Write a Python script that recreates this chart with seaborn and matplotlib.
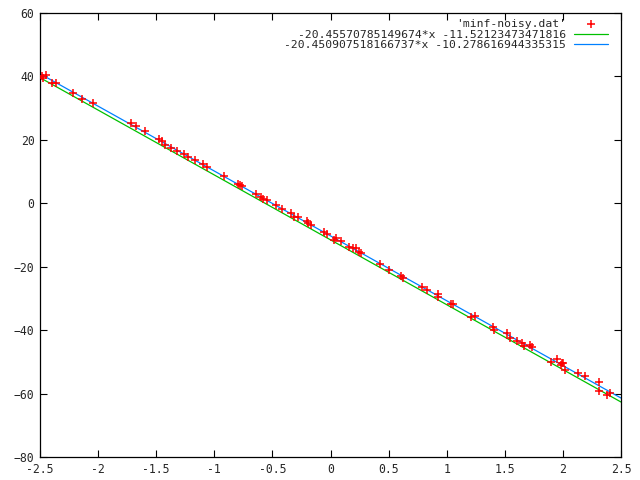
import numpy as np
import pandas as pd
import matplotlib
matplotlib.use("Agg")
import matplotlib.pyplot as plt
import seaborn as sns

# noisy samples
x_data = [-2.48, -2.45, -2.47, -2.40, -2.36, -2.22, -2.14, -2.04, -1.72, -1.67,
          -1.60, -1.48, -1.45, -1.42, -1.37, -1.32, -1.26, -1.23, -1.17, -1.10,
          -1.06, -0.92, -0.80, -0.78, -0.76, -0.64, -0.60, -0.58, -0.55, -0.47,
          -0.42, -0.34, -0.31, -0.28, -0.20, -0.19, -0.17, -0.056, -0.03, 0.03,
          0.047, 0.09, 0.16, 0.19, 0.22, 0.245, 0.26, 0.43, 0.50, 0.61,
          0.62, 0.79, 0.83, 0.925, 0.925, 1.04, 1.05, 1.21, 1.24, 1.40,
          1.41, 1.52, 1.545, 1.605, 1.65, 1.665, 1.72, 1.73, 1.90, 1.95,
          1.99, 2.00, 1.98, 2.02, 2.13, 2.19, 2.31, 2.31, 2.38, 2.405]
y_data = [40.1, 40.4, 39.5, 37.9, 37.9, 34.8, 32.9, 31.6, 25.3, 24.4,
          22.8, 20.3, 19.6, 18.4, 17.4, 16.5, 15.5, 14.6, 13.6, 12.4,
          11.4, 8.6, 6.1, 5.8, 5.4, 2.9, 2.0, 1.3, 1.0, -0.5,
          -1.8, -3.1, -4.3, -4.3, -5.6, -6.2, -6.9, -9.1, -9.7, -11.6,
          -11.0, -11.9, -13.8, -14.1, -14.1, -15.4, -15.7, -19.2, -21.0, -22.9,
          -23.6, -26.4, -27.4, -28.6, -29.6, -31.8, -31.8, -35.9, -35.6, -39.0,
          -40.0, -40.9, -42.5, -43.4, -44.1, -45.0, -44.7, -45.3, -50.1, -49.1,
          -50.4, -50.4, -51.0, -52.6, -53.5, -54.5, -56.4, -59.2, -60.5, -59.8]

# fitted lines (slope, intercept) as printed in the key
fit1 = (-20.45570785149674, -11.52123473471816)
fit2 = (-20.450907518166737, -10.278616944335315)
x_range = [-2.5, 2.5]

label_pts = "'minf-noisy.dat'"
label1 = "-20.45570785149674*x -11.52123473471816"
label2 = "-20.450907518166737*x -10.278616944335315"

sns.set_style("ticks")
plt.rcParams["font.family"] = ["DejaVu Sans Mono"]

fig = plt.figure(figsize=(6.4, 4.8), dpi=100)
ax = fig.add_axes([40 / 640, 23 / 480, 581 / 640, 444 / 480])

pts = pd.DataFrame({"x": x_data, "y": y_data})
sns.scatterplot(data=pts, x="x", y="y", marker="+", color="#ff0000", s=32,
                linewidth=1.1, ax=ax, label=label_pts, zorder=3)

for (m, b), col, lab in [(fit1, "#00c000", label1), (fit2, "#0080ff", label2)]:
    line = pd.DataFrame({"x": x_range, "y": [m * v + b for v in x_range]})
    sns.lineplot(data=line, x="x", y="y", color=col, linewidth=0.9, ax=ax,
                 label=lab, zorder=2)

ax.set_xlim(-2.5, 2.5)
ax.set_ylim(-80, 60)
ax.set_xticks(np.arange(-2.5, 2.51, 0.5))
ax.set_yticks(np.arange(-80, 61, 20))
ax.set_xticklabels(["-2.5", "-2", "-1.5", "-1", "-0.5", "0", "0.5", "1", "1.5", "2", "2.5"])
ax.set_xlabel("")
ax.set_ylabel("")
ax.tick_params(direction="in", length=5, width=0.8, top=True, right=True,
               labelsize=8.3, pad=4, color="black")
for s in ax.spines.values():
    s.set_color("black")
    s.set_linewidth(0.9)

ax.legend(loc="upper right", frameon=False, markerfirst=False, fontsize=8.2,
          labelspacing=0.05, handlelength=3.0, handletextpad=0.7,
          borderaxespad=0, borderpad=0,
          bbox_to_anchor=((608 - 40) / 581, 1 - 6 / 444))

fig.savefig("out.png", dpi=100)
